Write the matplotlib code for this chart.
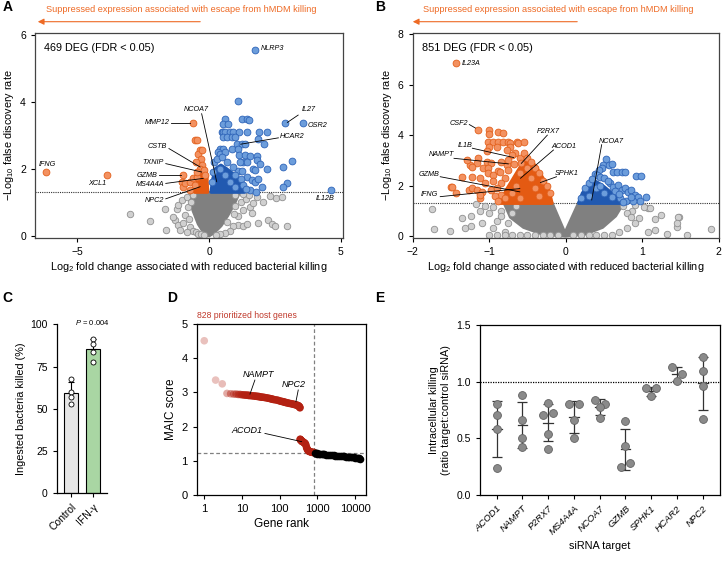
import numpy as np
import matplotlib
matplotlib.use('Agg')
import matplotlib.pyplot as plt
from matplotlib.patches import Polygon

plt.rcParams['font.family'] = ['Liberation Sans', 'DejaVu Sans']
plt.rcParams['mathtext.fontset'] = 'custom'
plt.rcParams['mathtext.rm'] = 'Liberation Sans'
plt.rcParams['mathtext.it'] = 'Liberation Sans:italic'
plt.rcParams['axes.linewidth'] = 0.9
plt.rcParams['xtick.major.size'] = 3
plt.rcParams['ytick.major.size'] = 3
plt.rcParams['xtick.major.width'] = 0.8
plt.rcParams['ytick.major.width'] = 0.8
plt.rcParams['xtick.labelsize'] = 7.5
plt.rcParams['ytick.labelsize'] = 7.5

# ---------------- data ----------------
fdr_cut = -np.log10(0.05)

# panel A (hMDM volcano)
a_core_gray_x = [-0.65, -0.05, 0.0, 0.07, 1.15, 0.95, 0.7, 0.45, 0.2, 0.0, -0.2, -0.4, -0.6, -0.72]
a_core_gray_y = [1.3, 1.3, 0.35, 1.3, 1.3, 0.95, 0.6, 0.3, 0.1, 0.0, 0.1, 0.35, 0.75, 1.1]
a_gray_x = [-2.99, -2.23, -1.64, -1.67, -1.22, -1.29, -1.16, -1.16, -1.03, -0.84, -1.35, -0.97, -1.1,
            -0.72, -0.59, -0.9, -0.8, -0.7, -0.6, -0.75, -0.5, -0.4, -0.85, -0.3, -0.2,
            1.81, 2.06, 2.54, 2.75, 1.87, 2.25, 2.37, 2.5, 2.97, 1.55, 1.68, 1.62, 1.30, 1.1, 1.3,
            1.45, 1.2, 1.4, 1.5, 1.3, 1.0, 1.1, 0.9, 0.8, 0.6, 1.0, 2.31, 0.4, 0.25, 0.7, 0.95]
a_gray_y = [0.64, 0.44, 0.17, 0.79, 0.81, 0.47, 0.32, 0.91, 1.06, 1.16, 0.57, 0.37, 0.17,
            0.27, 0.14, 0.62, 0.85, 1.0, 1.2, 0.5, 0.1, 0.05, 0.1, 0.04, 0.03,
            1.16, 1.01, 1.11, 1.16, 0.37, 0.47, 0.35, 0.3, 0.3, 0.86, 0.96, 0.67, 0.76, 0.33, 0.3,
            0.35, 1.0, 1.1, 1.2, 1.25, 1.2, 0.6, 0.3, 0.15, 0.08, 0.9, 1.18, 0.05, 0.03, 0.4, 0.65]
a_core_or_x = [-0.55, -0.45, -0.37, -0.3, -0.15, -0.08, -0.06]
a_core_or_y = [1.3, 1.6, 1.95, 2.1, 2.0, 1.7, 1.3]
a_or_x = [-6.19, -3.88, -0.62, -0.53, -0.47, -0.34, -0.4, -1.0, -1.03, -0.97, -0.91, -0.72, -0.59,
          -0.72, -0.47, -0.3, -0.25, -0.35, -0.2, -0.45, -0.55, -0.15, -0.28, -0.5]
a_or_y = [1.89, 1.81, 3.37, 2.87, 2.87, 2.55, 2.45, 1.82, 1.61, 1.46, 1.56, 1.61, 1.71,
          1.37, 1.76, 2.3, 2.1, 2.0, 1.95, 1.9, 1.5, 1.8, 2.55, 2.2]
a_core_bl_x = [0.08, 0.15, 0.25, 0.45, 0.65, 0.9, 1.1, 1.25, 1.35]
a_core_bl_y = [1.3, 1.7, 2.0, 2.1, 2.0, 1.85, 1.7, 1.5, 1.3]
a_bl_x = [1.09, 2.88, 3.57, 3.14, 2.82, 2.94, 2.82, 4.62, 1.74,
          1.26, 1.45, 1.50, 0.61, 0.54, 0.71,
          0.48, 0.54, 0.61, 0.80, 0.92, 1.14, 1.43, 1.91, 2.21, 1.87,
          0.54, 0.67, 0.86, 0.98, 1.05, 1.24, 1.36, 2.08,
          0.42, 0.54, 0.86, 1.11, 1.15, 1.36, 1.55, 1.81,
          0.35, 0.42, 0.61, 1.30, 1.43, 1.17, 1.81, 1.93, 2.21, 1.68, 1.74,
          1.11, 1.24, 1.43, 1.62, 1.74, 1.87, 2.0, 1.55, 1.78,
          0.2, 0.3, 0.5, 0.7, 0.9, 1.0, 1.2, 1.3, 1.4, 0.15, 0.12, 1.0, 0.8, 0.6, 0.4]
a_bl_y = [4.01, 3.35, 3.35, 2.23, 2.05, 1.56, 1.46, 1.36, 5.53,
          3.49, 3.48, 3.46, 3.49, 3.34, 3.34,
          3.1, 3.1, 3.1, 3.1, 3.1, 3.08, 3.08, 3.1, 3.08, 2.9,
          2.94, 2.94, 2.94, 2.94, 2.75, 2.75, 2.75, 2.75,
          2.6, 2.6, 2.6, 2.6, 2.4, 2.4, 2.37, 2.37,
          2.5, 2.45, 2.5, 2.2, 2.2, 2.2, 2.25, 2.15, 2.0, 2.0, 1.96,
          1.93, 1.93, 1.76, 1.66, 1.61, 1.68, 1.46, 1.36, 1.31,
          2.2, 2.3, 2.35, 2.2, 2.05, 1.8, 1.7, 1.5, 1.4, 1.9, 1.6, 1.45, 1.6, 1.8, 2.0]
a_labels = [
    ('NLRP3', 1.95, 5.6, 'left', None),
    ('IL27', 3.51, 3.78, 'left', (3.38, 3.6, 2.97, 3.38)),
    ('OSR2', 3.72, 3.3, 'left', None),
    ('HCAR2', 2.68, 2.95, 'left', (2.63, 2.92, 1.2, 2.73)),
    ('IL12B', 4.39, 1.12, 'center', None),
    ('NCOA7', -0.47, 3.76, 'center', (-0.28, 3.64, 0.29, 1.61)),
    ('MMP12', -1.5, 3.38, 'right', (-1.45, 3.37, -0.72, 3.37)),
    ('CSTB', -1.58, 2.66, 'right', (-1.52, 2.6, -0.34, 2.05)),
    ('TXNIP', -1.7, 2.18, 'right', (-1.64, 2.15, -0.28, 1.9)),
    ('GZMB', -1.95, 1.81, 'right', (-1.9, 1.81, -1.08, 1.81)),
    ('MS4A4A', -1.7, 1.53, 'right', (-1.64, 1.56, -0.22, 1.71)),
    ('NPC2', -1.7, 1.04, 'right', (-1.64, 1.1, -0.34, 1.46)),
    ('IFNG', -6.15, 2.13, 'center', None),
    ('XCL1', -4.25, 1.56, 'center', None),
]

# panel B (hiPSC volcano)
b_core_gray_x = [-0.8, -0.18, -0.01, 0.17, 0.75, 0.65, 0.48, 0.25, 0.0, -0.3, -0.55, -0.72]
b_core_gray_y = [1.3, 1.3, 0.1, 1.3, 1.3, 0.8, 0.35, 0.08, 0.0, 0.08, 0.35, 0.75]
b_gray_x = [-1.75, -1.72, -1.51, -1.36, -1.31, -1.24, -1.24, -1.17, -1.12, -1.05, -1.0, -0.95,
            -0.9, -0.85, -1.1, -0.95, -0.8, -1.0, -0.9, -0.8, -0.7, -0.6, -0.5, -0.4, -0.3,
            -0.2, -0.85, -0.75, -0.7, -0.65, -0.1,
            1.9, 1.59, 1.45, 1.48, 1.32, 1.17, 1.08, 1.25, 1.17, 1.08, 1.02, 0.91, 0.87, 1.1,
            0.96, 1.47, 1.45, 0.9, 0.8, 0.7, 0.2, 0.3, 0.4, 0.5, 0.6, 0.8, 0.75, 0.85, 0.1]
b_gray_y = [1.06, 0.27, 0.2, 0.7, 0.33, 0.79, 0.4, 1.27, 1.0, 1.2, 0.9, 1.15,
            0.6, 1.0, 0.5, 0.3, 0.15, 0.05, 0.02, 0.02, 0.03, 0.02, 0.02, 0.03, 0.03,
            0.02, 0.8, 0.5, 0.9, 1.2, 0.02,
            0.27, 0.02, 0.37, 0.77, 0.07, 0.24, 0.17, 0.83, 0.66, 1.11, 1.16, 1.23, 1.0, 1.1,
            0.7, 0.74, 0.5, 0.5, 0.3, 0.15, 0.02, 0.03, 0.02, 0.03, 0.02, 0.9, 1.2, 0.75, 0.02]
b_core_or_x = [-0.85, -0.78, -0.68, -0.58, -0.5, -0.4, -0.3, -0.22, -0.18]
b_core_or_y = [1.3, 1.8, 2.3, 2.8, 3.0, 2.8, 2.3, 1.8, 1.3]
b_or_x = [-1.43, -1.15, -1.0, -1.0, -0.89, -0.82,
          -1.01, -0.95, -0.88, -0.82, -0.75, -0.73, -0.64, -0.62, -0.55,
          -1.0, -0.9, -0.73, -1.03, -1.14, -1.16, -1.25, -1.23, -1.29,
          -1.03, -0.97, -0.84, -1.08, -1.02, -0.89, -0.86, -0.77, -0.77, -0.66,
          -1.36, -1.23, -1.12, -1.01, -0.95, -1.5, -1.48, -1.43, -1.27, -1.23, -1.16, -1.1,
          -1.12, -1.12, -0.97, -0.84,
          -0.7, -0.6, -0.55, -0.5, -0.45, -0.4, -0.35, -0.3, -0.25, -0.2, -0.75, -0.8, -0.85,
          -0.9, -0.92, -0.88, -0.65, -0.7, -0.6, -0.5, -0.45, -0.4, -0.35, -0.6, -0.8, -1.05,
          -0.95, -0.75, -0.68, -0.58]
b_or_y = [6.85, 4.21, 4.21, 4.03, 4.14, 4.07,
          3.74, 3.74, 3.74, 3.74, 3.74, 3.7, 3.74, 3.68, 3.72,
          3.54, 3.54, 3.54, 3.39, 3.08, 2.88, 2.82, 2.75, 3.02,
          2.95, 2.88, 2.95, 2.69, 2.69, 2.58, 2.55, 2.82, 3.41, 3.28,
          2.35, 2.33, 2.29, 2.49, 2.42, 1.94, 1.94, 1.69, 1.83, 1.9, 1.83, 1.76,
          1.5, 1.62, 1.83, 1.63,
          3.2, 3.1, 3.3, 3.1, 2.95, 2.7, 2.5, 2.2, 2.0, 1.7, 2.6, 2.3, 2.1,
          1.9, 1.6, 1.4, 2.0, 1.7, 2.5, 2.7, 2.3, 1.9, 1.6, 1.5, 1.5, 2.1,
          2.2, 3.0, 2.85, 2.9]
b_core_bl_x = [0.17, 0.22, 0.3, 0.4, 0.5, 0.6, 0.7, 0.78]
b_core_bl_y = [1.3, 1.7, 2.0, 2.15, 1.95, 1.7, 1.45, 1.3]
b_bl_x = [0.53, 0.49, 0.56, 0.61, 0.47, 0.43, 0.62, 0.67, 0.73, 0.78, 0.92, 0.98, 0.38, 0.41,
          0.45, 0.58, 0.62, 0.69, 0.73, 0.78, 0.82, 0.86, 0.91, 0.95, 0.97, 1.05, 0.88, 0.79,
          0.71, 0.25, 0.3, 0.35, 0.5, 0.55, 0.65, 0.7, 0.6, 0.5, 0.4, 0.2, 0.3, 0.45, 0.75, 0.85]
b_bl_y = [3.06, 2.82, 2.82, 2.86, 2.69, 2.62, 2.52, 2.52, 2.52, 2.52, 2.38, 2.39, 2.46, 2.42,
          2.35, 2.09, 1.96, 2.02, 1.83, 1.89, 1.76, 1.83, 1.63, 1.56, 1.4, 1.54, 1.39, 1.4,
          1.5, 1.9, 2.1, 2.25, 2.3, 2.2, 1.8, 1.65, 1.55, 1.7, 1.9, 1.5, 1.6, 2.0, 1.35, 1.55]
b_labels = [
    ('IL23A', -1.36, 6.85, 'left', None),
    ('CSF2', -1.28, 4.47, 'right', (-1.26, 4.42, -1.18, 4.28)),
    ('P2RX7', -0.23, 4.14, 'center', (-0.24, 4.0, -0.58, 2.88)),
    ('ACOD1', -0.02, 3.54, 'center', (-0.16, 3.41, -0.59, 2.29)),
    ('SPHK1', 0.02, 2.49, 'center', (-0.12, 2.35, -0.33, 2.12)),
    ('IL1B', -1.31, 3.58, 'center', (-1.22, 3.48, -0.68, 3.11)),
    ('NAMPT', -1.62, 3.24, 'center', (-1.46, 3.08, -0.75, 2.86)),
    ('GZMB', -1.78, 2.42, 'center', (-1.64, 2.35, -0.6, 1.75)),
    ('IFNG', -1.78, 1.63, 'center', (-1.64, 1.56, -0.6, 1.88)),
    ('NCOA7', 0.59, 3.74, 'center', (0.47, 3.62, 0.34, 1.43)),
]

# panel C
c_groups = ['Control', 'IFN-γ']
c_values = [[67.6, 60.1, 56.8, 52.8], [91.1, 88.3, 83.8, 77.9]]

# panel D (MAIC)
d_rank_red = [1, 2, 3, 4, 5, 6, 7, 8, 9, 10, 11, 12, 13, 14, 15, 16, 18, 20, 22, 24, 26, 28, 30,
              33, 36, 40, 45, 50, 55, 60, 65, 70, 80, 90, 100, 110, 120, 130, 140, 150, 165, 180,
              200, 220, 240, 260, 280, 300, 310, 320, 330, 340, 345,
              350, 355, 360, 370, 380, 390, 400, 420, 440, 460, 480, 500, 520, 540, 560, 580,
              600, 630, 660, 700, 740, 780, 828]
d_score_red = [4.51, 3.36, 3.25, 2.97, 2.96, 2.95, 2.95, 2.94, 2.94, 2.93, 2.93, 2.92, 2.92, 2.92,
               2.91, 2.91, 2.90, 2.90, 2.89, 2.89, 2.88, 2.88, 2.87, 2.86, 2.86, 2.85, 2.84, 2.83,
               2.82, 2.81, 2.80, 2.79, 2.78, 2.77, 2.75, 2.74, 2.73, 2.72, 2.71, 2.70, 2.69, 2.68,
               2.67, 2.66, 2.65, 2.64, 2.63, 2.62, 2.61, 2.60, 2.59, 2.57, 2.55,
               1.63, 1.62, 1.61, 1.60, 1.58, 1.57, 1.56, 1.55, 1.53, 1.52, 1.50, 1.45, 1.38, 1.34,
               1.31, 1.29, 1.28, 1.27, 1.26, 1.25, 1.25, 1.24, 1.24]
d_rank_blk = [850, 900, 950, 1000, 1100, 1200, 1300, 1400, 1500, 1700, 1900, 2100, 2400, 2700,
              3000, 3400, 3800, 4200, 4700, 5200, 5800, 6400, 7000, 7700, 8500, 9300, 10200,
              11100, 12000, 12900, 13400]
d_score_blk = [1.23, 1.22, 1.22, 1.21, 1.21, 1.20, 1.20, 1.19, 1.19, 1.18, 1.17, 1.17, 1.16, 1.16,
               1.15, 1.15, 1.14, 1.14, 1.13, 1.13, 1.12, 1.12, 1.11, 1.11, 1.10, 1.10, 1.09,
               1.09, 1.08, 1.07, 1.06]
d_n_prior = 828
d_cut = 1.24
d_labels = [
    ('NAMPT', 27, 3.51, (22, 3.36, 16.3, 2.95)),
    ('NPC2', 230, 3.22, (311, 3.07, 270, 2.73)),
    ('ACOD1', 13.3, 1.88, (40.7, 1.80, 383, 1.56)),
]

# panel E (siRNA)
e_targets = ['ACOD1', 'NAMPT', 'P2RX7', 'MS4A4A', 'NCOA7', 'GZMB', 'SPHK1', 'HCAR2', 'NPC2']
e_values = [
    [0.80, 0.71, 0.58, 0.24],
    [0.88, 0.66, 0.50, 0.42],
    [0.81, 0.71, 0.72, 0.54, 0.41],
    [0.80, 0.80, 0.66, 0.50],
    [0.84, 0.80, 0.78, 0.68],
    [0.65, 0.43, 0.25, 0.28],
    [0.94, 0.94, 0.87],
    [1.13, 1.07, 1.01],
    [1.22, 1.09, 0.96, 0.67],
]

# ---------------- figure ----------------
W, H = 723, 562
fig = plt.figure(figsize=(W / 100, H / 100), dpi=100)


def box(l, t, r, b):
    return [l / W, 1 - b / H, (r - l) / W, (b - t) / H]


ORANGE = '#ee6a25'
GRAY_F, GRAY_E = '#d0d0d0', '#8f8f8f'
OR_F, OR_E = '#f39160', '#e2601c'
BL_F, BL_E = '#6c9ddb', '#2e64b8'


def core(ax, xs, ys, color, z):
    ax.add_patch(Polygon(np.column_stack([xs, ys]), closed=True, facecolor=color,
                         edgecolor=color, lw=2.5, joinstyle='round', zorder=z))


def volcano(ax, d, labels, deg_text):
    core(ax, d['gx'], d['gy'], '#808080', 1)
    ax.scatter(d['px'], d['py'], s=22, c=GRAY_F, edgecolors=GRAY_E, linewidths=0.6, zorder=2)
    core(ax, d['ox'], d['oy'], '#e45a12', 3)
    ax.scatter(d['opx'], d['opy'], s=24, c=OR_F, edgecolors=OR_E, linewidths=0.6, zorder=4)
    core(ax, d['bx'], d['by'], '#2159b0', 3)
    ax.scatter(d['bpx'], d['bpy'], s=24, c=BL_F, edgecolors=BL_E, linewidths=0.6, zorder=4)
    ax.axhline(fdr_cut, color='#333333', lw=0.8, ls=(0, (1, 1)), zorder=0.5)
    for name, tx, ty, ha, ln in labels:
        ax.text(tx, ty, name, fontsize=5.2, style='italic', ha=ha, va='center', zorder=6)
        if ln is not None:
            ax.plot([ln[0], ln[2]], [ln[1], ln[3]], color='black', lw=0.6, zorder=5)
    ax.text(0.03, 0.95, deg_text, transform=ax.transAxes, fontsize=7.8, ha='left', va='top')
    for s in ax.spines.values():
        s.set_color('#444444')
    ax.set_ylabel('−Log$_{10}$ false discovery rate', fontsize=7.8, labelpad=3)
    ax.set_xlabel('Log$_2$ fold change associated with reduced bacterial killing', fontsize=7.8,
                  labelpad=2)


# A
axA = fig.add_axes(box(35, 33, 343, 238))
volcano(axA, dict(gx=a_core_gray_x, gy=a_core_gray_y, px=a_gray_x, py=a_gray_y,
                  ox=a_core_or_x, oy=a_core_or_y, opx=a_or_x, opy=a_or_y,
                  bx=a_core_bl_x, by=a_core_bl_y, bpx=a_bl_x, bpy=a_bl_y),
        a_labels, '469 DEG (FDR < 0.05)')
axA.set_xlim(-6.6, 5.08)
axA.set_ylim(-0.07, 6.05)
axA.set_xticks([-5, 0, 5])
axA.set_yticks([0, 2, 4, 6])

# B
axB = fig.add_axes(box(412.7, 33, 718.7, 238))
volcano(axB, dict(gx=b_core_gray_x, gy=b_core_gray_y, px=b_gray_x, py=b_gray_y,
                  ox=b_core_or_x, oy=b_core_or_y, opx=b_or_x, opy=b_or_y,
                  bx=b_core_bl_x, by=b_core_bl_y, bpx=b_bl_x, bpy=b_bl_y),
        b_labels, '851 DEG (FDR < 0.05)')
axB.set_xlim(-2, 2)
axB.set_ylim(-0.08, 8.05)
axB.set_xticks([-2, -1, 0, 1, 2])
axB.set_yticks([0, 2, 4, 6, 8])

# orange headers with arrows
for tx, x0, x1 in [(46, 35, 203), (423, 410, 580)]:
    fig.text(tx / W, 1 - 10 / H, 'Suppressed expression associated with escape from hMDM killing',
             color=ORANGE, fontsize=6.6, ha='left', va='center')
    fig.add_artist(matplotlib.patches.FancyArrowPatch(
        (x1 / W, 1 - 21.7 / H), (x0 / W, 1 - 21.7 / H), transform=fig.transFigure,
        arrowstyle='-|>', mutation_scale=9, color=ORANGE, lw=0.8))

# C
axC = fig.add_axes(box(56.7, 324.3, 106.7, 493.3))
xc = np.arange(len(c_groups))
c_means = [np.mean(v) for v in c_values]
c_sd = [np.std(v, ddof=1) for v in c_values]
axC.bar(xc, c_means, width=0.64, color=['#e6e6e6', '#a9d6a3'], edgecolor='black', lw=0.8,
        zorder=1)
axC.errorbar(xc, c_means, yerr=[np.zeros(len(xc)), c_sd], fmt='none', ecolor='black',
             elinewidth=0.8, capsize=2.4, capthick=0.8, zorder=2)
for i, v in enumerate(c_values):
    axC.scatter(np.full(len(v), xc[i]), v, s=13, c='white', edgecolors='black', linewidths=0.6,
                zorder=3)
axC.set_xlim(-0.65, 1.62)
axC.set_ylim(0, 100)
axC.set_yticks([0, 25, 50, 75, 100])
axC.set_xticks(xc)
axC.set_xticklabels(c_groups, rotation=45, ha='right', rotation_mode='anchor', fontsize=7.5)
axC.spines['top'].set_visible(False)
axC.spines['right'].set_visible(False)
axC.set_ylabel('Ingested bacteria killed (%)', fontsize=7.8, labelpad=3)
axC.text(0.98, 101, '$P$ = 0.004', fontsize=5.5, ha='center', va='center')

# D
axD = fig.add_axes(box(196.7, 324, 366, 495))


def overlap_colors(rgb, ranks, base):
    # real points sit one per rank, so darkness grows with rank on a log axis
    out = []
    for r in ranks:
        a = 1 - (1 - base) ** max(1.0, 0.36 * r)
        out.append((*rgb, a))
    return out


axD.scatter(d_rank_red, d_score_red, s=30, linewidths=0,
            c=overlap_colors((0.70, 0.13, 0.07), d_rank_red, 0.28), zorder=3)
axD.scatter(d_rank_blk, d_score_blk, s=30, linewidths=0, c='black', zorder=3)
axD.axvline(d_n_prior, color='#808080', lw=0.9, ls=(0, (3, 2)), zorder=1)
axD.axhline(d_cut, color='#808080', lw=0.9, ls=(0, (3, 2)), zorder=1)
for name, tx, ty, ln in d_labels:
    axD.text(tx, ty, name, fontsize=6.5, style='italic', ha='center', va='center')
    axD.plot([ln[0], ln[2]], [ln[1], ln[3]], color='black', lw=0.6, zorder=4)
axD.set_xscale('log')
axD.set_xlim(0.63, 19500)
axD.set_ylim(0, 5)
axD.set_xticks([1, 10, 100, 1000, 10000])
axD.set_xticklabels(['1', '10', '100', '1000', '10000'])
axD.minorticks_off()
axD.set_yticks([0, 1, 2, 3, 4, 5])
axD.tick_params(labelsize=8)
axD.set_ylabel('MAIC score', fontsize=8.5, labelpad=3)
axD.set_xlabel('Gene rank', fontsize=8.5, labelpad=3)
axD.text(0.0, 1.05, f'{d_n_prior} prioritized host genes', transform=axD.transAxes,
         color='#c0392b', fontsize=6.2, ha='left', va='center')

# E
axE = fig.add_axes(box(480, 325, 720, 495))


def spread(vals, gap=0.065, step=0.19):
    offs = [None] * len(vals)
    for i, v in enumerate(vals):
        if offs[i] is not None:
            continue
        offs[i] = 0.0
        for j in range(i + 1, len(vals)):
            if offs[j] is None and abs(vals[j] - v) < gap:
                offs[i], offs[j] = -step, step
                break
    return offs


for i, vals in enumerate(e_values):
    m, sd = np.mean(vals), np.std(vals, ddof=1)
    axE.errorbar([i], [m], yerr=[sd], fmt='none', ecolor='#333333', elinewidth=0.9,
                 capsize=3.6, capthick=0.9, zorder=2)
    axE.plot([i - 0.19, i + 0.19], [m, m], color='#333333', lw=0.9, zorder=2)
    axE.scatter(i + np.array(spread(vals)), vals, s=32, c='#8a8a8a', edgecolors='#626262',
                linewidths=0.6, zorder=3)
axE.axhline(1.0, color='black', lw=0.9, ls=(0, (1, 1)), zorder=1)
axE.set_xlim(-0.65, 8.67)
axE.set_ylim(0, 1.5)
axE.set_yticks([0, 0.5, 1.0, 1.5])
axE.set_yticklabels(['0.0', '0.5', '1.0', '1.5'])
axE.set_xticks(range(len(e_targets)))
axE.set_xticklabels(e_targets, rotation=45, ha='right', rotation_mode='anchor', fontsize=6.8,
                    style='italic')
axE.set_ylabel('Intracellular killing\n(ratio target:control siRNA)', fontsize=7.8, labelpad=4)
axE.set_xlabel('siRNA target', fontsize=7.8, labelpad=3)

# panel letters
for let, x, y in [('A', 7.5, 7), ('B', 380, 7), ('C', 7, 298), ('D', 172, 298), ('E', 380, 298)]:
    fig.text(x / W, 1 - y / H, let, fontsize=10, fontweight='bold', ha='center', va='center')

fig.savefig('out.png', dpi=100)
